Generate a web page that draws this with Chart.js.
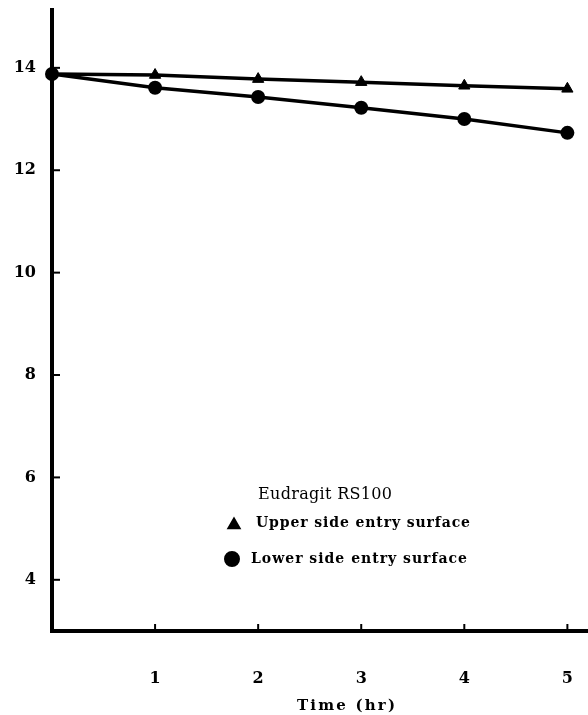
<!DOCTYPE html>
<html>
<head>
<meta charset="utf-8">
<script src="https://cdn.jsdelivr.net/npm/chart.js@4.4.1/dist/chart.umd.min.js"></script>
<style>
  html, body { margin: 0; padding: 0; background: #fff; }
  canvas { display: block; }
</style>
</head>
<body>
<canvas id="entryChart" width="588" height="715"></canvas>
<script>
// ---- values ----
var timeHr    = [0, 1, 2, 3, 4, 5];
var upperSide = [13.88, 13.86, 13.78, 13.72, 13.65, 13.59];
var lowerSide = [13.88, 13.61, 13.43, 13.22, 13.00, 12.73];
var xTicks    = [1, 2, 3, 4, 5];
var yTicks    = [4, 6, 8, 10, 12, 14];
var legendTitle = "Eudragit RS100";
var seriesNames = ["Upper side entry surface", "Lower side entry surface"];
var xTitle = "Time (hr)";

var ink   = "#000";
var serif = "'DejaVu Serif', serif";

function pairs(ys) {
  return timeHr.map(function (t, i) { return { x: t, y: ys[i] }; });
}

// stretch a string to a given width, like the spaced typewriter text of the scan
function spacedText(ctx, text, x, y, width, align) {
  ctx.letterSpacing = "0px";
  var natural = ctx.measureText(text).width;
  var gap = (width - natural) / (text.length - 1);
  ctx.letterSpacing = gap + "px";
  var left = align === "center" ? x - width / 2 : x;
  ctx.textAlign = "left";
  ctx.fillText(text, left, y);
  ctx.letterSpacing = "0px";
}

// inward tick marks, the legend inside the plot and the axis title
var figureExtras = {
  id: "figureExtras",
  afterDraw: function (chart) {
    var ctx = chart.ctx;
    var area = chart.chartArea;
    var xs = chart.scales.x, ys = chart.scales.y;
    ctx.save();
    ctx.strokeStyle = ink;
    ctx.fillStyle = ink;
    ctx.lineWidth = 2;
    yTicks.forEach(function (v) {
      var py = ys.getPixelForValue(v);
      ctx.beginPath(); ctx.moveTo(area.left, py); ctx.lineTo(area.left + 8, py); ctx.stroke();
    });
    xTicks.forEach(function (v) {
      var px = xs.getPixelForValue(v);
      ctx.beginPath(); ctx.moveTo(px, area.bottom); ctx.lineTo(px, area.bottom - 7); ctx.stroke();
    });

    ctx.textBaseline = "middle";
    ctx.font = "16px " + serif;
    spacedText(ctx, legendTitle, 325, 495, 134, "center");
    ctx.font = "bold 14px " + serif;
    spacedText(ctx, seriesNames[0], 256, 523, 214, "left");
    spacedText(ctx, seriesNames[1], 251, 559, 216, "left");

    Chart.helpers.drawPoint(ctx, { pointStyle: "triangle", radius: 6.5, rotation: 0, borderWidth: 1 }, 234, 525);
    ctx.fill();
    Chart.helpers.drawPoint(ctx, { pointStyle: "circle", radius: 7, rotation: 0, borderWidth: 1 }, 232, 559);
    ctx.fill();

    ctx.font = "bold 15px " + serif;
    spacedText(ctx, xTitle, 346, 706, 98, "center");
    ctx.restore();
  }
};

new Chart(document.getElementById("entryChart"), {
  type: "line",
  data: {
    datasets: [
      {
        label: seriesNames[1],
        data: pairs(lowerSide),
        borderColor: ink,
        backgroundColor: ink,
        borderWidth: 3.5,
        pointStyle: "circle",
        pointRadius: 7,
        pointBorderWidth: 0,
        tension: 0,
        clip: false
      },
      {
        label: seriesNames[0],
        data: pairs(upperSide),
        borderColor: ink,
        backgroundColor: ink,
        borderWidth: 3.5,
        pointStyle: "triangle",
        pointRadius: 6.5,
        pointBorderWidth: 1,
        tension: 0,
        clip: false
      }
    ]
  },
  options: {
    responsive: false,
    animation: false,
    layout: { autoPadding: false, padding: { top: 10, left: 0, right: 0, bottom: 0 } },
    plugins: {
      legend: { display: false },
      tooltip: { enabled: false }
    },
    scales: {
      x: {
        type: "linear",
        min: 0,
        max: 5.2,
        border: { color: ink, width: 4 },
        grid: { display: false },
        ticks: { color: ink, padding: 30, font: { family: serif, size: 16, weight: "bold" } },
        afterBuildTicks: function (scale) {
          scale.ticks = xTicks.map(function (v) { return { value: v }; });
        },
        afterFit: function (scale) {
          scale.height = 84;
          scale.paddingLeft = 0;
          scale.paddingRight = 0;
        }
      },
      y: {
        type: "linear",
        min: 3.0,
        max: 15.13,
        border: { color: ink, width: 4 },
        grid: { display: false },
        ticks: { color: ink, padding: 8, font: { family: serif, size: 16, weight: "bold" } },
        afterBuildTicks: function (scale) {
          scale.ticks = yTicks.map(function (v) { return { value: v }; });
        },
        afterFit: function (scale) {
          scale.width = 52;
          scale.paddingTop = 0;
          scale.paddingBottom = 0;
        }
      }
    }
  },
  plugins: [figureExtras]
});
</script>
</body>
</html>
